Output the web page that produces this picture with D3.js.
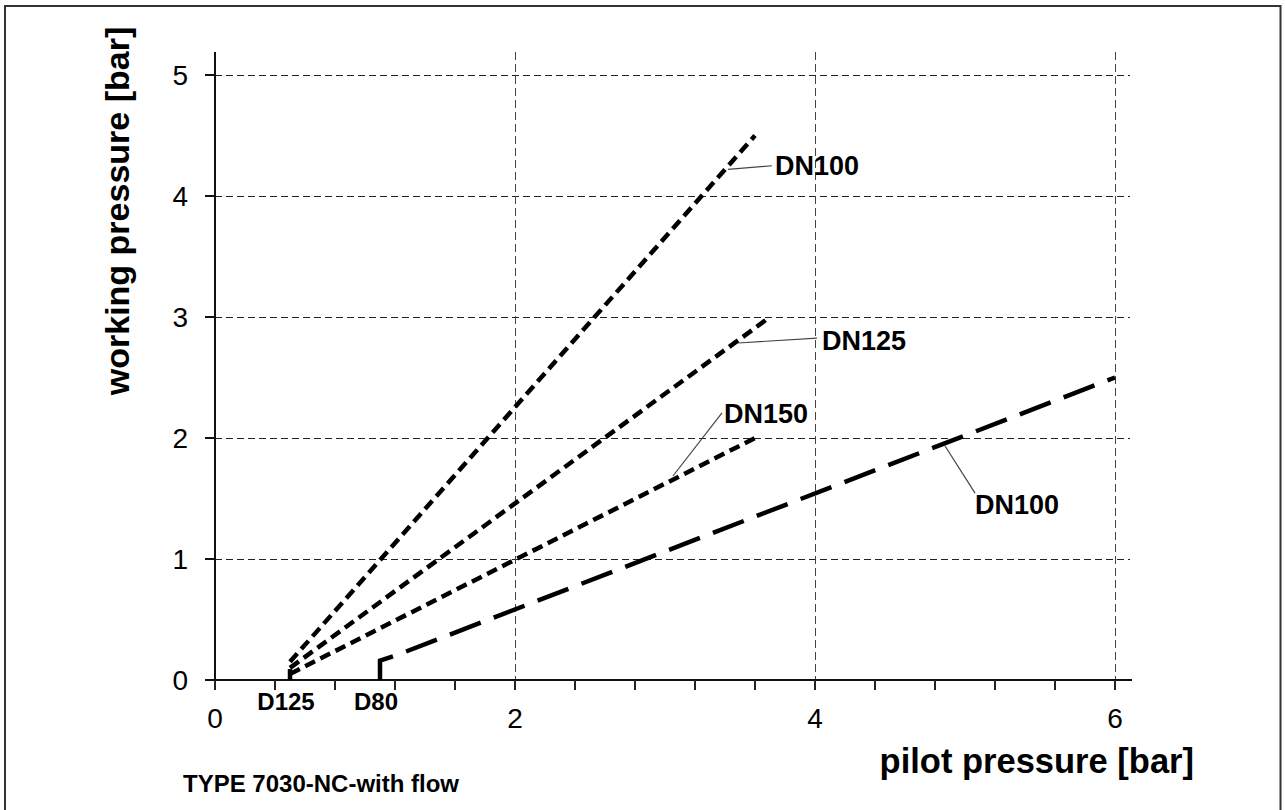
<!DOCTYPE html>
<meta charset="utf-8">
<html>
<head>
  <script src="https://d3js.org/d3.v7.min.js"></script>
  <style>
    body { margin: 0; background: #fff; }
    svg text { font-family: "Liberation Sans", Arial, sans-serif; fill: #000; }
  </style>
</head>
<body>
<div id="chart"></div>
<script>
// ---- data ----
const xTicks = [0, 2, 4, 6];
const yTicks = [0, 1, 2, 3, 4, 5];
const xMinor = [0, 0.4, 0.8, 1.2, 1.6, 2, 2.4, 2.8, 3.2, 3.6, 4, 4.4, 4.8, 5.2, 5.6, 6];

// short-dashed curves (pilot, working)
const dn100a = [[0.5, 0.15], [3.6, 4.5]];
const dn125 = [[0.5, 0.1], [3.7, 3.0]];
const dn150 = [[0.5, 0.05], [3.6, 2.0]];
// long-dashed curve, starts at D80
const dn100b = [[1.1, 0], [1.1, 0.16], [1.2, 0.2], [6, 2.5]];
// start marker
const d125Mark = [[0.5, 0], [0.5, 0.09]];

const markerNames = ["D125", "D80"];
const markerAt = [0.5, 1.1];

// labels and leader lines
const labelNames = ["DN100", "DN125", "DN150", "DN100"];
const labelAt = [[3.733, 4.17], [4.047, 2.727], [3.393, 2.124], [5.067, 1.372]];
const leaderFrom = [[3.42, 4.22], [3.487, 2.785], [3.053, 1.686], [4.867, 1.934]];
const leaderTo = [[3.713, 4.25], [4.013, 2.826], [3.38, 2.207], [5.067, 1.545]];

// ---- layout ----
const W = 1285, H = 810;
const svg = d3.select("#chart").append("svg")
  .attr("width", W).attr("height", H);

// frame
svg.append("path")
  .attr("d", "M5,810 L5,6 L1280.5,6 L1280.5,810")
  .attr("fill", "none").attr("stroke", "#333").attr("stroke-width", 2);

const x = d3.scaleLinear().domain([0, 6]).range([215, 1115]);
const y = d3.scaleLinear().domain([0, 5]).range([680, 75]);

// grid
svg.append("g")
  .attr("shape-rendering", "crispEdges")
  .selectAll("line")
  .data(yTicks.filter(d => d > 0))
  .join("line")
    .attr("x1", x(0)).attr("x2", 1130)
    .attr("y1", d => y(d)).attr("y2", d => y(d))
    .attr("stroke", "#222").attr("stroke-dasharray", "7,4");

svg.append("g")
  .attr("shape-rendering", "crispEdges")
  .selectAll("line")
  .data(xTicks.filter(d => d > 0))
  .join("line")
    .attr("x1", d => x(d)).attr("x2", d => x(d))
    .attr("y1", 52).attr("y2", 689)
    .attr("stroke", "#444").attr("stroke-dasharray", "8,4");

// axes
const ax = svg.append("g").attr("shape-rendering", "crispEdges");
ax.append("line")
  .attr("x1", 205).attr("x2", 1132)
  .attr("y1", y(0)).attr("y2", y(0))
  .attr("stroke", "#111").attr("stroke-width", 1.5);
ax.append("line")
  .attr("x1", x(0)).attr("x2", x(0))
  .attr("y1", 52).attr("y2", 690)
  .attr("stroke", "#111").attr("stroke-width", 1.5);

// x minor ticks
ax.append("g")
  .selectAll("line")
  .data(xMinor)
  .join("line")
    .attr("x1", d => x(d)).attr("x2", d => x(d))
    .attr("y1", y(0)).attr("y2", y(0) + 10)
    .attr("stroke", "#222").attr("stroke-width", 1.2);

// y ticks
ax.append("g")
  .selectAll("line")
  .data(yTicks)
  .join("line")
    .attr("x1", 205).attr("x2", x(0))
    .attr("y1", d => y(d)).attr("y2", d => y(d))
    .attr("stroke", "#111").attr("stroke-width", 1.2);

// tick labels
svg.append("g")
  .selectAll("text")
  .data(xTicks)
  .join("text")
    .attr("x", d => x(d)).attr("y", 728)
    .attr("text-anchor", "middle")
    .style("font-size", "28px")
    .text(d => d);

svg.append("g")
  .selectAll("text")
  .data(yTicks)
  .join("text")
    .attr("x", 188).attr("y", d => y(d) + 10)
    .attr("text-anchor", "end")
    .style("font-size", "28px")
    .text(d => d);

// axis titles
svg.append("text")
  .attr("transform", "translate(129,211) rotate(-90)")
  .attr("text-anchor", "middle")
  .style("font-size", "34px").style("font-weight", "bold")
  .text("working pressure [bar]");

svg.append("text")
  .attr("x", 1194).attr("y", 773)
  .attr("text-anchor", "end")
  .style("font-size", "34.5px").style("font-weight", "bold")
  .text("pilot pressure [bar]");

svg.append("text")
  .attr("x", 183).attr("y", 792)
  .style("font-size", "24px").style("font-weight", "bold")
  .text("TYPE 7030-NC-with flow");

// curves
const line = d3.line().x(d => x(d[0])).y(d => y(d[1]));

[dn100a, dn125, dn150].forEach(s => {
  svg.append("path")
    .datum(s)
    .attr("fill", "none")
    .attr("stroke", "#000")
    .attr("stroke-width", 4.5)
    .attr("stroke-dasharray", "11,6")
    .attr("d", line);
});

svg.append("path")
  .datum(d125Mark)
  .attr("fill", "none").attr("stroke", "#000").attr("stroke-width", 4.5)
  .attr("d", line);

svg.append("path")
  .datum(dn100b)
  .attr("fill", "none")
  .attr("stroke", "#000")
  .attr("stroke-width", 4.5)
  .attr("stroke-dasharray", "33,14")
  .attr("d", line);

// start markers text
svg.append("g")
  .selectAll("text")
  .data(markerNames)
  .join("text")
    .attr("x", (d, i) => x(markerAt[i]) - 4).attr("y", 710)
    .attr("text-anchor", "middle")
    .style("font-size", "24px").style("font-weight", "bold")
    .text(d => d);

// leaders
svg.append("g")
  .selectAll("line")
  .data(labelNames)
  .join("line")
    .attr("x1", (d, i) => x(leaderFrom[i][0])).attr("y1", (d, i) => y(leaderFrom[i][1]))
    .attr("x2", (d, i) => x(leaderTo[i][0])).attr("y2", (d, i) => y(leaderTo[i][1]))
    .attr("stroke", "#444").attr("stroke-width", 1.2);

svg.append("g")
  .selectAll("text")
  .data(labelNames)
  .join("text")
    .attr("x", (d, i) => x(labelAt[i][0])).attr("y", (d, i) => y(labelAt[i][1]))
    .style("font-size", "27px").style("font-weight", "bold")
    .text(d => d);
</script>
</body>
</html>
